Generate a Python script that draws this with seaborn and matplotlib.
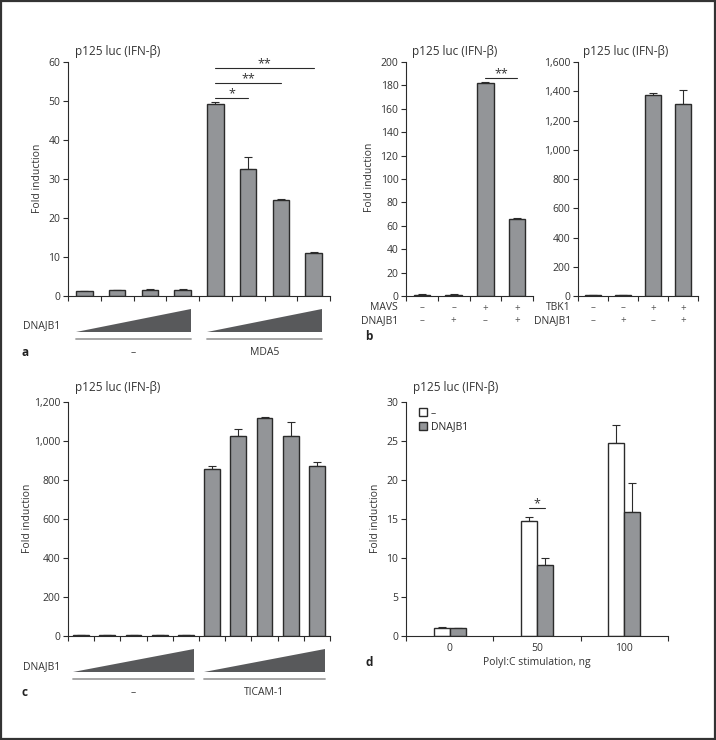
"""
p125 luc (IFN-beta) reporter assays -- four panels (a-d)
Bars drawn with seaborn, annotations with matplotlib
"""
import numpy as np
import pandas as pd
import matplotlib
matplotlib.use('Agg')
import matplotlib.pyplot as plt
import matplotlib.transforms as mtransforms
from matplotlib.patches import Polygon, Rectangle, Patch
from matplotlib.ticker import FuncFormatter
import seaborn as sns

# ---- Data ----
# Panel a : MDA5 + increasing DNAJB1
a_group = ['–'] * 4 + ['MDA5'] * 4
a_dose = [1, 2, 3, 4, 1, 2, 3, 4]
a_val = [1.3, 1.45, 1.6, 1.6, 49.3, 32.5, 24.7, 11.0]
a_err = [0.1, 0.1, 0.1, 0.1, 0.5, 3.1, 0.3, 0.4]

# Panel b : MAVS / TBK1
b_mavs = ['–', '–', '+', '+']
b_dnajb1 = ['–', '+', '–', '+']
b_mavs_val = [1.0, 1.0, 181.7, 66.0]
b_mavs_err = [0.3, 0.3, 1.2, 0.3]
b_tbk1_val = [5, 5, 1376, 1314]
b_tbk1_err = [1, 1, 10, 96]

# Panel c : TICAM-1 + increasing DNAJB1
c_group = ['–'] * 5 + ['TICAM-1'] * 5
c_dose = [1, 2, 3, 4, 5, 1, 2, 3, 4, 5]
c_val = [6, 5, 6, 6, 6, 855, 1024, 1120, 1024, 872]
c_err = [1, 1, 1, 1, 1, 17, 36, 5, 73, 20]

# Panel d : PolyI:C stimulation
d_dose = ['0', '50', '100']
d_treat = ['–', 'DNAJB1']
d_val = {'–': [1.0, 14.8, 24.7], 'DNAJB1': [1.0, 9.05, 15.85]}
d_err = {'–': [0.15, 0.5, 2.3], 'DNAJB1': [0.05, 0.95, 3.8]}

GRAY = '#939598'
EDGE = '#2b2b2b'
RAMP = '#58595b'
TXT = '#333333'

sns.set_theme(style='ticks', rc={
    'axes.edgecolor': EDGE, 'axes.linewidth': 0.8,
    'xtick.color': EDGE, 'ytick.color': EDGE,
    'xtick.labelcolor': TXT, 'ytick.labelcolor': TXT,
    'xtick.major.size': 3.5, 'ytick.major.size': 3.5,
    'xtick.major.width': 0.8, 'ytick.major.width': 0.8,
    'xtick.labelsize': 7.5, 'ytick.labelsize': 7.5,
    'ytick.major.pad': 2,
})
plt.rcParams['font.family'] = ['Open Sans', 'DejaVu Sans']

W, H = 716, 740
fig = plt.figure(figsize=(W / 100, H / 100), dpi=100)


def px(x, y):
    return x / W, 1 - y / H


def ax_at(x0, x1, y0, y1):
    return fig.add_axes([x0 / W, 1 - y1 / H, (x1 - x0) / W, (y1 - y0) / H])


def center(p):
    return p.get_x() + p.get_width() / 2


def style_axis(ax, n, ymax, ystep):
    ax.set_xlim(-0.5, n - 0.5)
    ax.set_xticks(np.arange(-0.5, n, 1))
    ax.set_xticklabels([])
    ax.set_ylim(0, ymax)
    ax.set_yticks(np.arange(0, ymax + 1, ystep))
    ax.yaxis.set_major_formatter(FuncFormatter(lambda v, _: f'{v:,.0f}'))
    ax.set_xlabel('')
    ax.set_ylabel('')
    sns.despine(ax=ax)


def add_errors(ax, bars, errs):
    for p, e in zip(bars, errs):
        ax.errorbar(center(p), p.get_height(), yerr=[[0], [e]], fmt='none',
                    ecolor=EDGE, elinewidth=0.8, capsize=3, capthick=0.8, zorder=1)


def single_bars(ax, cond, vals, errs, width):
    df = pd.DataFrame({'cond': cond, 'val': vals})
    sns.barplot(data=df, x='cond', y='val', ax=ax, color=GRAY, edgecolor=EDGE,
                linewidth=1, saturation=1, width=width, errorbar=None, zorder=2)
    bars = list(ax.patches)
    add_errors(ax, bars, errs)
    return bars


def ramp(ax, b0, b1, label):
    trans = mtransforms.blended_transform_factory(ax.transData, ax.transAxes)
    xl, xr = b0.get_x(), b1.get_x() + b1.get_width()
    ax.add_patch(Polygon([[xl, -0.154], [xr, -0.154], [xr, -0.056]], closed=True,
                         transform=trans, clip_on=False, facecolor=RAMP, edgecolor='none'))
    ax.plot([xl, xr], [-0.184, -0.184], transform=trans, clip_on=False, color='#a0a0a0', lw=1.3)
    ax.text((xl + xr) / 2, -0.24, label, transform=trans, ha='center', va='center',
            fontsize=7.5, color=TXT)


def sig(ax, x0, x1, y, mark):
    ax.plot([x0, x1], [y, y], color=EDGE, lw=0.8, clip_on=False)
    ax.annotate(mark, xy=((x0 + x1) / 2, y), xytext=(0, 0.5), textcoords='offset points',
                ha='center', va='baseline', fontsize=9, color=TXT, annotation_clip=False)


def title(x, y, ha='left'):
    fig.text(*px(x, y), 'p125 luc (IFN-β)', ha=ha, va='center', fontsize=8.5, color=TXT)


def ylab(x, y):
    fig.text(*px(x, y), 'Fold induction', rotation=90, ha='center', va='center',
             fontsize=7.5, color=TXT)


def letter(x, y, s):
    fig.text(*px(x, y), s, ha='left', va='center', fontsize=8.5, fontweight='bold', color='#222')


# ---- Panel a ----
ax_a = ax_at(68, 330, 62, 296)
bars_a = single_bars(ax_a, [f'{g} {d}' for g, d in zip(a_group, a_dose)], a_val, a_err, 0.5)
style_axis(ax_a, len(a_val), 60, 10)
ramp(ax_a, bars_a[0], bars_a[3], '–')
ramp(ax_a, bars_a[4], bars_a[7], 'MDA5')
for j, lev, mark in zip([5, 6, 7], [50.7, 54.5, 58.4], ['*', '**', '**']):
    sig(ax_a, center(bars_a[4]), center(bars_a[j]), lev, mark)
fig.text(*px(60, 326), 'DNAJB1', ha='right', va='center', fontsize=7.5, color=TXT)
title(75, 52)
ylab(37, 178)
letter(22, 353, 'a')

# ---- Panel b ----
ax_b1 = ax_at(406, 533, 62, 296)
bars_b1 = single_bars(ax_b1, [f'{m}/{d}' for m, d in zip(b_mavs, b_dnajb1)],
                      b_mavs_val, b_mavs_err, 0.52)
style_axis(ax_b1, 4, 200, 20)
sig(ax_b1, center(bars_b1[2]), center(bars_b1[3]), 186, '**')

ax_b2 = ax_at(578, 698, 62, 296)
bars_b2 = single_bars(ax_b2, [f'{m}/{d}' for m, d in zip(b_mavs, b_dnajb1)],
                      b_tbk1_val, b_tbk1_err, 0.55)
style_axis(ax_b2, 4, 1600, 200)

for ax, bars, name, xr in [(ax_b1, bars_b1, 'MAVS', 398), (ax_b2, bars_b2, 'TBK1', 571)]:
    trans = mtransforms.blended_transform_factory(ax.transData, fig.transFigure)
    for row, (lab, signs, yy) in enumerate([(name, b_mavs, 308), ('DNAJB1', b_dnajb1, 321)]):
        fig.text(*px(xr, yy), lab, ha='right', va='center', fontsize=7.5, color=TXT)
        for p, s in zip(bars, signs):
            ax.text(center(p), 1 - yy / H, s, transform=trans, ha='center', va='center',
                    fontsize=7, color='#555555')
title(455, 52, 'center')
title(626, 52, 'center')
ylab(370, 177)
letter(365, 337, 'b')

# ---- Panel c ----
ax_c = ax_at(68, 330, 402, 636)
bars_c = single_bars(ax_c, [f'{g} {d}' for g, d in zip(c_group, c_dose)], c_val, c_err, 0.61)
style_axis(ax_c, len(c_val), 1200, 200)
ramp(ax_c, bars_c[0], bars_c[4], '–')
ramp(ax_c, bars_c[5], bars_c[9], 'TICAM-1')
fig.text(*px(60, 667), 'DNAJB1', ha='right', va='center', fontsize=7.5, color=TXT)
title(75, 388)
ylab(28, 518)
letter(22, 692, 'c')

# ---- Panel d ----
ax_d = ax_at(406, 668, 402, 636)
df_d = pd.DataFrame({
    'dose': d_dose * len(d_treat),
    'treat': [t for t in d_treat for _ in d_dose],
    'val': [v for t in d_treat for v in d_val[t]],
})
sns.barplot(data=df_d, x='dose', y='val', hue='treat', hue_order=d_treat,
            palette=['white', GRAY], ax=ax_d, edgecolor=EDGE, linewidth=1, saturation=1,
            width=0.37, errorbar=None, legend=False, zorder=2)
bars_d = list(ax_d.patches)
add_errors(ax_d, bars_d, [e for t in d_treat for e in d_err[t]])
style_axis(ax_d, len(d_dose), 30, 5)
ax_d.set_xticks(np.arange(len(d_dose)), labels=d_dose, minor=True)
ax_d.tick_params(axis='x', which='minor', length=0, pad=5, labelsize=7.5)
sig(ax_d, center(bars_d[1]), center(bars_d[4]), 16.4, '*')
ax_d.legend(handles=[Patch(facecolor='white', edgecolor=EDGE, lw=1),
                     Patch(facecolor=GRAY, edgecolor=EDGE, lw=1)],
            labels=d_treat, loc='upper left', bbox_to_anchor=(0.05, 0.975), frameon=False,
            fontsize=7.5, handlelength=0.75, handleheight=0.75, handletextpad=0.35,
            labelspacing=0.25, borderpad=0, borderaxespad=0)
fig.text(*px(537, 663), 'PolyI:C stimulation, ng', ha='center', va='center',
         fontsize=7.5, color=TXT)
title(413, 388)
ylab(376, 518)
letter(365, 663, 'd')

# Cadre autour de la figure
fig.add_artist(Rectangle((0.0015, 0.0015), 0.997, 0.997, transform=fig.transFigure,
                         fill=False, edgecolor='#333333', lw=1.6))

plt.savefig('out.png', dpi=100)
plt.close()
